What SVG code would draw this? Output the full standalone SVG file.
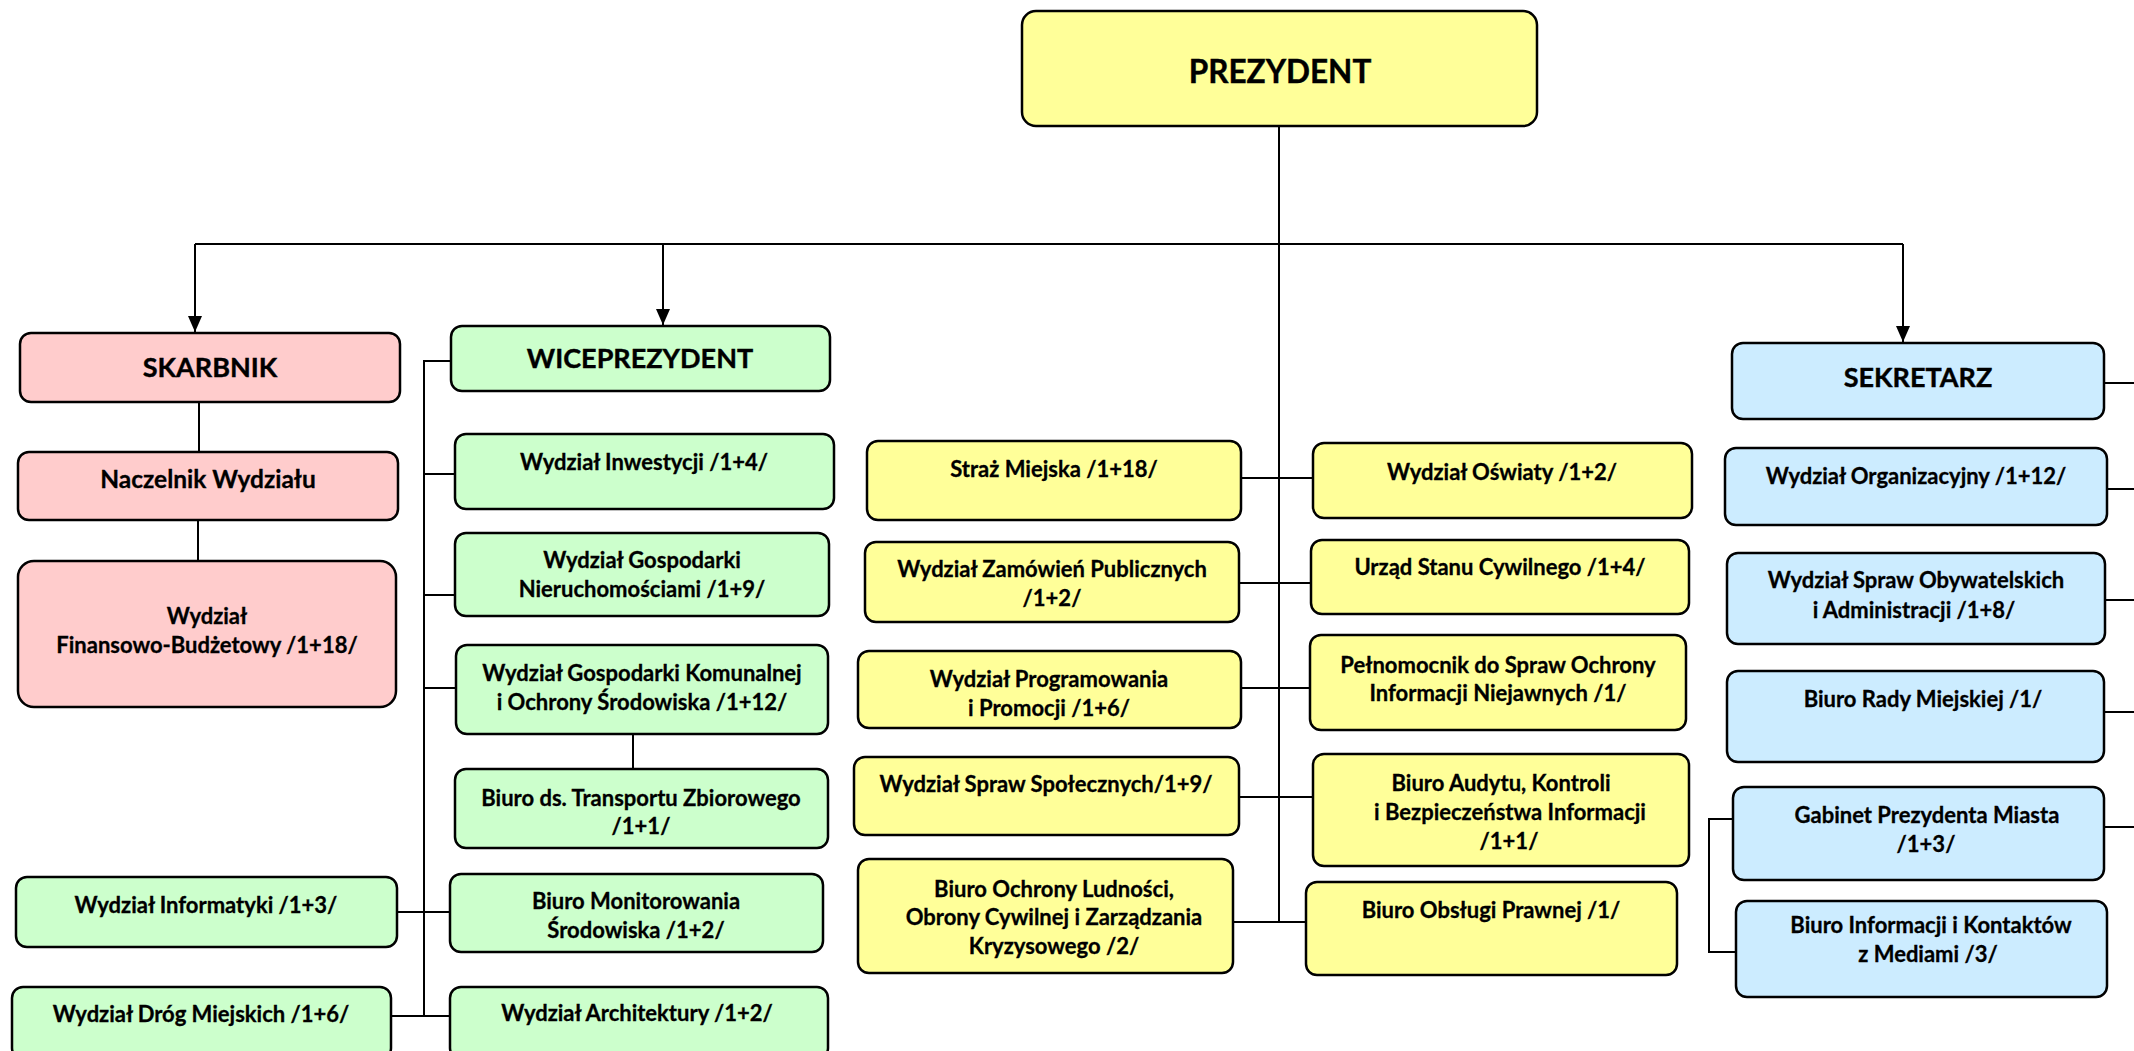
<svg xmlns="http://www.w3.org/2000/svg" width="2134" height="1051" viewBox="0 0 2134 1051">
<style>
.box{stroke:#000;stroke-width:2.5}
.pink{fill:#FFCCCC}.green{fill:#CCFFCC}.yellow{fill:#FFFF99}.blue{fill:#CCECFF}
.t{font-family:Lato,"Liberation Sans",sans-serif;font-weight:bold;font-size:22px;text-anchor:middle;fill:#000;stroke:#000;stroke-width:0.3}
.h{font-family:Lato,"Liberation Sans",sans-serif;font-weight:bold;font-size:27px;text-anchor:middle;fill:#000;stroke:#000;stroke-width:0.4}
.ln{fill:none;stroke:#000;stroke-width:2}
</style>
<defs>
<marker id="arr" viewBox="0 0 16 14" markerWidth="16" markerHeight="14" refX="16" refY="7" orient="auto" markerUnits="userSpaceOnUse">
<path d="M0 0 L16 7 L0 14 z" fill="#000"/>
</marker>
</defs>
<rect width="2134" height="1051" fill="#fff"/>
<g id="connectors">
<path class="ln" d="M1279 126 V922"/>
<path class="ln" d="M195 244 H1903"/>
<path class="ln" d="M195 244 V332" marker-end="url(#arr)"/>
<path class="ln" d="M663 244 V325" marker-end="url(#arr)"/>
<path class="ln" d="M1903 244 V342" marker-end="url(#arr)"/>
<path class="ln" d="M199 402 V452"/>
<path class="ln" d="M198 520 V561"/>
<path class="ln" d="M451 361 H424 V1016"/>
<path class="ln" d="M424 474 H455"/>
<path class="ln" d="M424 595 H455"/>
<path class="ln" d="M424 688 H456"/>
<path class="ln" d="M397 912 H450"/>
<path class="ln" d="M391 1016 H450"/>
<path class="ln" d="M633 734 V769"/>
<path class="ln" d="M1241 478 H1313"/>
<path class="ln" d="M1239 583 H1311"/>
<path class="ln" d="M1241 688 H1310"/>
<path class="ln" d="M1239 797 H1313"/>
<path class="ln" d="M1233 922 H1306"/>
<path class="ln" d="M2104 383 H2134"/>
<path class="ln" d="M2107 489 H2134"/>
<path class="ln" d="M2105 600 H2134"/>
<path class="ln" d="M2104 712 H2134"/>
<path class="ln" d="M2104 827 H2134"/>
<path class="ln" d="M1733 819 H1709 V952 H1736"/>
</g>
<g id="prezydent"><rect class="box yellow" x="1022" y="11" width="515" height="115" rx="14"/><text class="h" x="1280" y="83" style="font-size:31.5px">PREZYDENT</text></g>
<g id="skarbnik"><rect class="box pink" x="20" y="333" width="380" height="69" rx="11"/><text class="h" x="210" y="377">SKARBNIK</text></g>
<g id="naczelnik"><rect class="box pink" x="18" y="452" width="380" height="68" rx="11"/><text class="t" x="208" y="488" style="font-size:24.5px">Naczelnik Wydziału</text></g>
<g id="wfb"><rect class="box pink" x="18" y="561" width="378" height="146" rx="16"/><text class="t" x="207" y="624">Wydział</text><text class="t" x="207" y="653">Finansowo-Budżetowy /1+18/</text></g>
<g id="wiceprezydent"><rect class="box green" x="451" y="326" width="379" height="65" rx="11"/><text class="h" x="640" y="368">WICEPREZYDENT</text></g>
<g id="inwestycji"><rect class="box green" x="455" y="434" width="379" height="75" rx="11"/><text class="t" x="644" y="470">Wydział Inwestycji /1+4/</text></g>
<g id="wgn"><rect class="box green" x="455" y="533" width="374" height="83" rx="11"/><text class="t" x="642" y="568">Wydział Gospodarki</text><text class="t" x="642" y="597">Nieruchomościami /1+9/</text></g>
<g id="wgk"><rect class="box green" x="456" y="645" width="372" height="89" rx="11"/><text class="t" x="642" y="681">Wydział Gospodarki Komunalnej</text><text class="t" x="642" y="710">i Ochrony Środowiska /1+12/</text></g>
<g id="btz"><rect class="box green" x="455" y="769" width="373" height="79" rx="11"/><text class="t" x="641" y="806">Biuro ds. Transportu Zbiorowego</text><text class="t" x="641" y="834">/1+1/</text></g>
<g id="bms"><rect class="box green" x="450" y="874" width="373" height="78" rx="11"/><text class="t" x="636" y="909">Biuro Monitorowania</text><text class="t" x="636" y="938">Środowiska /1+2/</text></g>
<g id="wa"><rect class="box green" x="450" y="987" width="378" height="72" rx="11"/><text class="t" x="637" y="1021">Wydział Architektury /1+2/</text></g>
<g id="informatyki"><rect class="box green" x="16" y="877" width="381" height="70" rx="11"/><text class="t" x="206" y="913">Wydział Informatyki /1+3/</text></g>
<g id="drog"><rect class="box green" x="12" y="987" width="379" height="72" rx="11"/><text class="t" x="201" y="1022">Wydział Dróg Miejskich /1+6/</text></g>
<g id="straz"><rect class="box yellow" x="867" y="441" width="374" height="79" rx="11"/><text class="t" x="1054" y="477">Straż Miejska /1+18/</text></g>
<g id="oswiaty"><rect class="box yellow" x="1313" y="443" width="379" height="75" rx="11"/><text class="t" x="1502" y="480">Wydział Oświaty /1+2/</text></g>
<g id="zamowien"><rect class="box yellow" x="865" y="542" width="374" height="80" rx="11"/><text class="t" x="1052" y="577">Wydział Zamówień Publicznych</text><text class="t" x="1052" y="606">/1+2/</text></g>
<g id="usc"><rect class="box yellow" x="1311" y="540" width="378" height="74" rx="11"/><text class="t" x="1500" y="575">Urząd Stanu Cywilnego /1+4/</text></g>
<g id="programowania"><rect class="box yellow" x="858" y="651" width="383" height="77" rx="11"/><text class="t" x="1049" y="687">Wydział Programowania</text><text class="t" x="1049" y="716">i Promocji /1+6/</text></g>
<g id="pelnomocnik"><rect class="box yellow" x="1310" y="635" width="376" height="95" rx="11"/><text class="t" x="1498" y="673">Pełnomocnik do Spraw  Ochrony</text><text class="t" x="1498" y="701">Informacji Niejawnych /1/</text></g>
<g id="spolecznych"><rect class="box yellow" x="854" y="757" width="385" height="78" rx="11"/><text class="t" x="1046" y="792">Wydział Spraw Społecznych/1+9/</text></g>
<g id="audytu"><rect class="box yellow" x="1313" y="754" width="376" height="112" rx="11"/><text class="t" x="1501" y="791">Biuro Audytu, Kontroli</text><text class="t" x="1510" y="820">i Bezpieczeństwa Informacji</text><text class="t" x="1509" y="849">/1+1/</text></g>
<g id="ochrona"><rect class="box yellow" x="858" y="859" width="375" height="114" rx="11"/><text class="t" x="1054" y="897">Biuro Ochrony Ludności,</text><text class="t" x="1054" y="925">Obrony Cywilnej i Zarządzania</text><text class="t" x="1054" y="954">Kryzysowego /2/</text></g>
<g id="prawna"><rect class="box yellow" x="1306" y="882" width="371" height="93" rx="11"/><text class="t" x="1491" y="918">Biuro Obsługi Prawnej /1/</text></g>
<g id="sekretarz"><rect class="box blue" x="1732" y="343" width="372" height="76" rx="11"/><text class="h" x="1918" y="387">SEKRETARZ</text></g>
<g id="organizacyjny"><rect class="box blue" x="1725" y="448" width="382" height="77" rx="11"/><text class="t" x="1916" y="484">Wydział Organizacyjny /1+12/</text></g>
<g id="obywatelskich"><rect class="box blue" x="1727" y="553" width="378" height="91" rx="11"/><text class="t" x="1916" y="588">Wydział Spraw Obywatelskich</text><text class="t" x="1914" y="618">i Administracji /1+8/</text></g>
<g id="rady"><rect class="box blue" x="1727" y="671" width="377" height="91" rx="11"/><text class="t" x="1923" y="707">Biuro Rady Miejskiej /1/</text></g>
<g id="gabinet"><rect class="box blue" x="1733" y="787" width="371" height="93" rx="11"/><text class="t" x="1927" y="823">Gabinet Prezydenta Miasta</text><text class="t" x="1926" y="852">/1+3/</text></g>
<g id="media"><rect class="box blue" x="1736" y="901" width="371" height="96" rx="11"/><text class="t" x="1931" y="933">Biuro Informacji i Kontaktów</text><text class="t" x="1928" y="962">z Mediami /3/</text></g>
</svg>
